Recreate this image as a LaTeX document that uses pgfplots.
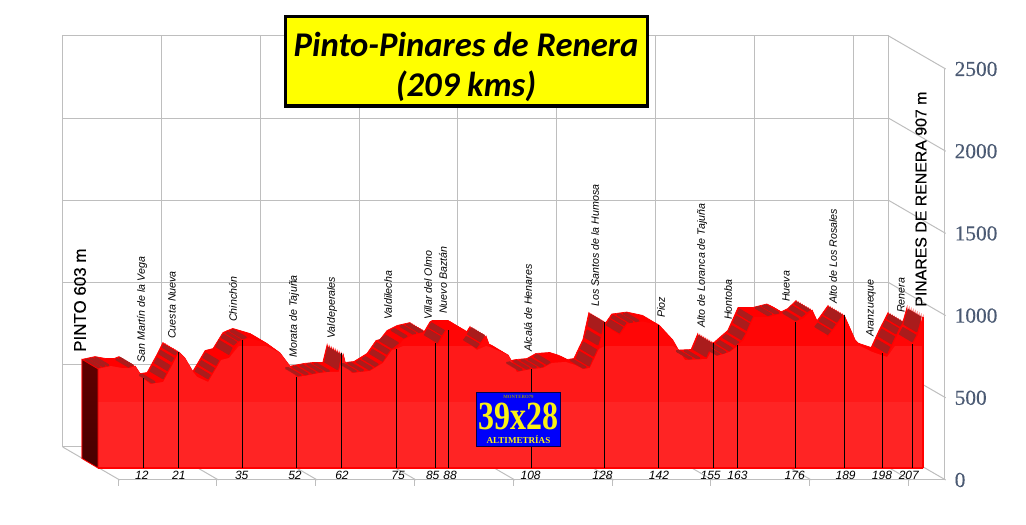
\documentclass[border=0pt]{standalone}
\usepackage{fontspec}
\usepackage{graphicx}
\usepackage{pgfplots}
\usepackage{pgfplotstable}
\pgfplotsset{compat=1.18}
\setmainfont{Liberation Sans}
\newfontfamily\titlefont{Carlito}
\newfontfamily\serifnum{Liberation Serif}
\newfontfamily\serifheavy[FakeBold=0.25]{Liberation Serif}
\newfontfamily\heavysans[FakeBold=0.35]{Liberation Sans}
\definecolor{gridg}{RGB}{190,190,190}
\definecolor{numc}{RGB}{75,90,115}
\definecolor{band1}{RGB}{255,36,36}
\definecolor{band2}{RGB}{255,25,25}
\definecolor{band3}{RGB}{255,6,6}
\definecolor{rib}{RGB}{255,0,0}
\definecolor{stripe}{RGB}{170,28,28}
\definecolor{logob}{RGB}{0,0,250}
\definecolor{titley}{RGB}{255,255,0}
\definecolor{logoy}{RGB}{250,240,20}
% front edge of the profile: km, m
\pgfplotstableread{
x y
0 603
3.3 620
6.1 608
8.1 608
9.4 620
11.4 547
13.2 511
16.5 523
19.0 633
20.5 706
22.0 669
24.1 584
25.1 554
27.9 523
31.2 657
33.2 669
35.7 766
36.9 779
38.2 791
42.6 760
46.1 700
48.6 620
50.2 554
52.4 560
56.2 578
58.5 584
61.0 584
62.1 693
62.8 627
64.3 578
68.9 590
72.2 639
74.5 718
75.5 724
77.3 779
79.8 809
83.1 827
84.6 779
86.1 748
88.2 833
88.7 839
92.8 839
93.5 827
94.7 748
96.0 718
98.3 803
99.3 736
103.9 687
104.9 645
106.1 584
109.9 602
112.7 608
115.0 639
118.5 645
120.8 627
122.9 602
124.6 608
126.9 724
128.4 888
130.2 839
132.2 809
134.2 879
138.0 891
142.1 870
145.6 779
146.9 724
148.7 657
154.3 663
156.0 760
156.8 681
160.1 706
162.1 748
163.6 779
166.2 919
170.0 919
173.5 940
175.3 918
176.8 888
178.8 912
180.9 961
182.4 882
184.9 797
187.0 864
189.0 931
191.8 779
193.0 748
196.1 706
199.9 675
201.9 779
204.2 888
206.4 754
207.7 809
209 920
}\profile
% climbing pieces, drawn as the dark stripes
\pgfplotstableread{
x y
0.3 605
1.1 610
nan nan
1.5 612
2.3 616
nan nan
2.7 617
3.3 620
nan nan
8.0 608
8.6 613
nan nan
8.9 615
9.4 620
nan nan
14 513
15 517
nan nan
16.8 535
17.6 570
nan nan
17.9 585
18.7 620
nan nan
19 640
19.6 665
nan nan
19.9 680
20.4 700
nan nan
28.2 535
28.9 562
nan nan
29.2 575
29.9 603
nan nan
30.2 617
31 650
nan nan
33.5 683
34.4 727
nan nan
34.7 742
35.6 762
nan nan
35.9 768
36.6 776
nan nan
37 780
38.1 790
nan nan
51 556
52 558
nan nan
52.8 562
53.8 567
nan nan
54.6 571
55.6 575
nan nan
56.4 579
57.4 581
nan nan
58.2 583
59.2 584
nan nan
61.1 590
61.9 685
nan nan
65 580
66 582
nan nan
66.8 585
67.8 588
nan nan
69 591
70 605
nan nan
70.5 612
71.5 626
nan nan
72.4 642
73.2 672
nan nan
73.5 685
74.3 712
nan nan
74.8 722
76.6 757
nan nan
77.8 785
78.8 797
nan nan
80 810
81 815
nan nan
81.6 820
82.8 825
nan nan
86.3 755
87.2 795
nan nan
87.4 803
88.2 833
nan nan
96.2 725
97 750
nan nan
97.2 760
98.3 803
nan nan
107 588
108 593
nan nan
108.8 597
109.8 601
nan nan
110.6 604
111.6 606
nan nan
112.4 608
113.4 616
nan nan
114 624
115 639
nan nan
123.2 603
124.2 607
nan nan
124.8 612
125.6 660
nan nan
125.9 672
126.7 716
nan nan
127 740
127.6 790
nan nan
127.8 810
128.4 885
nan nan
132.4 815
133.4 852
nan nan
133.6 860
134.2 878
nan nan
135 880
136 884
nan nan
136.6 886
137.6 890
nan nan
150 660
151 660
nan nan
152 661
153 662
nan nan
154.4 668
155.9 755
nan nan
157 682
158 688
nan nan
158.6 691
159.6 700
nan nan
160.2 706
161.2 725
nan nan
161.8 740
162.8 762
nan nan
163.3 773
164.3 815
nan nan
164.6 830
165.4 875
nan nan
165.6 885
166.2 917
nan nan
170 922
171.2 930
nan nan
171.8 933
173 938
nan nan
177 890
178 902
nan nan
178.6 915
179.6 935
nan nan
180 945
180.8 958
nan nan
185.2 805
186 830
nan nan
186.3 840
187.2 870
nan nan
187.5 880
188.9 928
nan nan
200.2 690
201 732
nan nan
201.3 748
202.2 795
nan nan
202.5 808
203.2 845
nan nan
203.5 855
204.2 885
nan nan
206.6 760
207.6 805
nan nan
207.8 820
208.9 915
}\climbs
% black sticks at the passing points
\pgfplotstableread{
x y
11.4 547
20.3 705
36.7 778
50.2 554
61.8 700
75.5 724
85.6 760
88.7 839
109.9 602
128.4 888
142.1 870
155.8 760
162.1 748
176.8 888
189.0 931
198.8 700
206.4 754
}\sticks
% pseudo 3d floor and side wall of the box
\pgfplotstableread{
x y
0 0
14.42 -200.7
nan nan
25 0
39.42 -200.7
nan nan
50 0
64.42 -200.7
nan nan
75 0
89.42 -200.7
nan nan
100 0
114.42 -200.7
nan nan
125 0
139.42 -200.7
nan nan
150 0
164.42 -200.7
nan nan
175 0
189.42 -200.7
nan nan
200 0
214.42 -200.7
nan nan
209 0
223.42 -200.7
nan nan
209 500
223.42 299.3
nan nan
209 1000
223.42 799.3
nan nan
209 1500
223.42 1299.3
nan nan
209 2000
223.42 1799.3
nan nan
209 2500
223.42 2299.3
}\walls
\begin{document}
\begin{tikzpicture}[x=0.75pt,y=0.75pt]
\path[use as bounding box] (0,0) rectangle (1026,525);
% back wall
\begin{axis}[at={(62.7*0.75pt,78*0.75pt)},anchor=south west,scale only axis,
  width=619.5pt,height=308.25pt,xmin=0,xmax=209,ymin=0,ymax=2500,clip=false,
  xtick={0,25,...,200},ytick={0,500,...,2500},xticklabels={},yticklabels={},
  grid=major,grid style={gridg,line width=0.75pt},axis line style={gridg,line width=0.75pt},
  major tick length=0pt]
\addplot[gridg,line width=0.75pt,unbounded coords=jump] table {\walls};
\end{axis}
% front edges with the scale
\begin{axis}[at={(118*0.75pt,45*0.75pt)},anchor=south west,scale only axis,
  width=619.5pt,height=308.25pt,xmin=0,xmax=209,ymin=0,ymax=2500,
  axis x line*=bottom,axis y line*=right,axis line style={gridg,line width=0.75pt,-},
  xtick={0,25,...,200},xticklabels={},ytick={0,500,...,2500},
  tick align=outside,major tick length=4.5pt,
  xtick style={gridg,line width=0.75pt},ytick style={draw=none},
  yticklabel style={font=\serifheavy\fontsize{16}{16}\selectfont,text=numc,anchor=west,xshift=0pt},
  /pgf/number format/1000 sep={},/pgf/number format/assume math mode=true]
\addplot[draw=none] coordinates {(0,0)};
\end{axis}
% the profile
\begin{axis}[at={(98*0.75pt,57*0.75pt)},anchor=south west,scale only axis,
  width=618.75pt,height=308.25pt,xmin=0,xmax=209,ymin=0,ymax=2500,clip=false,
  axis line style={draw=none},ytick=\empty,tick style={draw=none},
  xtick={11.1,20.5,36.4,49.9,61.8,76.0,84.8,89.2,109.6,127.8,142.1,155.2,162.0,176.5,189.4,198.6,205.4},
  xticklabels={12,21,35,52,62,75,85,88,108,128,142,155,163,176,189,198,207},
  xticklabel style={font=\itshape\fontsize{9}{9}\selectfont,inner sep=1pt,yshift=-1.25pt},
  /pgf/number format/assume math mode=true]
\pgfplotsinvokeforeach{0,...,8}{
  \addplot[fill=rib,draw=rib,line width=0.5pt,xshift=-#1*1.5pt,yshift=#1*0.89pt] table {\profile} \closedcycle;
}
\addplot[fill=band3,draw=none] table {\profile} \closedcycle;
\addplot[fill=band2,draw=none,y filter/.expression={y>742?742:y}] table {\profile} \closedcycle;
\addplot[fill=band1,draw=none,y filter/.expression={y>401?401:y}] table {\profile} \closedcycle;
\pgfplotsinvokeforeach{2,...,14}{
  \addplot[draw=stripe,line width=1.5pt,unbounded coords=jump,xshift=-#1*0.75pt,yshift=#1*0.445pt] table {\climbs};
}
\addplot[rib,line width=1pt] coordinates {(0,0) (209,0)};
\addplot[rib,line width=1pt] coordinates {(209,0) (209,920)};
\addplot[draw=rib,line width=0.6pt,top color=black!50!red!75!black,bottom color=black!72!red] coordinates {(-4.05,661) (0,603) (0,0) (-4.05,58)} -- cycle;
\addplot[ycomb,black,line width=0.75pt] table {\sticks};
\end{axis}
% names along the route
\newcommand{\placelab}[4][\fontsize{8}{8}\selectfont\itshape]{\node[rotate=90,anchor=west,inner sep=0pt,font=#1] at (#2,525-#3) {#4};}
\placelab{142}{363}{San Martín de la Vega}
\placelab{172}{339}{Cuesta Nueva}
\placelab{233}{322}{Chinchón}
\placelab{294}{358}{Morata de Tajuña}
\placelab{332}{339}{Valdeperales}
\placelab{388}{320}{Valdilecha}
\placelab{428}{320}{Villar del Olmo}
\placelab{443}{314}{Nuevo Baztán}
\placelab{528}{352}{Alcalá de Henares}
\placelab{595}{307}{Los Santos de la Humosa}
\placelab{661}{318}{Pioz}
\placelab{702}{328}{Alto de Loranca de Tajuña}
\placelab{728}{320}{Hontoba}
\placelab{786}{302}{Hueva}
\placelab{833}{304}{Alto de Los Rosales}
\placelab{871}{337}{Aranzueque}
\placelab{901}{313}{Renera}
\placelab[\heavysans\fontsize{12.7}{13}\selectfont]{80}{352}{PINTO 603 m}
\placelab[\heavysans\fontsize{11.9}{13}\selectfont]{921}{307}{PINARES DE RENERA 907 m}
% title box
\draw[black,line width=2.4pt,fill=titley] (285.5,525-16.5) rectangle (647.5,525-106);
\node[font=\titlefont\bfseries\itshape\fontsize{26}{26}\selectfont,inner sep=0pt] at (466,525-44) {Pinto-Pinares de Renera};
\node[font=\titlefont\bfseries\itshape\fontsize{26}{26}\selectfont,inner sep=0pt] at (466,525-86) {(209 kms)};
% logo
\draw[draw=black!70!blue,line width=0.75pt,fill=logob] (476.5,525-392.5) rectangle (560.5,525-446.5);
\node[font=\serifnum\bfseries\fontsize{3.6}{4}\selectfont,text=logoy!60!black,inner sep=0pt] at (518.5,525-397) {MONTERO79};
\node[font=\serifnum\bfseries\fontsize{30}{30}\selectfont,text=logoy,inner sep=0pt] at (518.5,525-416.5) {\scalebox{0.8}[1]{39x28}};
\node[font=\serifnum\bfseries\fontsize{6.8}{7}\selectfont,text=logoy,inner sep=0pt] at (518.5,525-440) {ALTIMETRÍAS};
\end{tikzpicture}
\end{document}
